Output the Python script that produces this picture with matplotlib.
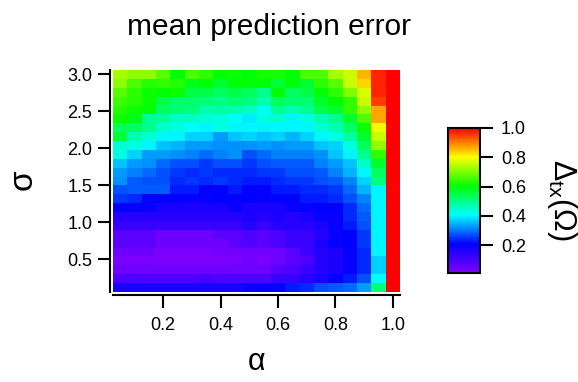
import numpy as np
import matplotlib
matplotlib.use("Agg")
import matplotlib.pyplot as plt
from matplotlib.colors import LinearSegmentedColormap

plt.rcParams['font.family'] = ['Liberation Sans', 'DejaVu Sans']
plt.rcParams['mathtext.fontset'] = 'custom'
plt.rcParams['mathtext.rm'] = 'Liberation Sans'
plt.rcParams['mathtext.it'] = 'Liberation Sans:italic'

# grid of the scan
alpha = [0.05, 0.10, 0.15, 0.20, 0.25, 0.30, 0.35, 0.40, 0.45, 0.50,
         0.55, 0.60, 0.65, 0.70, 0.75, 0.80, 0.85, 0.90, 0.95, 1.00]
sigma = [0.12, 0.24, 0.36, 0.48, 0.60, 0.72, 0.84, 0.96, 1.08, 1.20,
         1.32, 1.44, 1.56, 1.68, 1.80, 1.92, 2.04, 2.16, 2.28, 2.40,
         2.52, 2.64, 2.76, 2.88, 3.00]

# mean prediction error, rows listed from sigma = 3.00 down to 0.12
err_rows = [
    [0.73, 0.71, 0.71, 0.67, 0.60, 0.66, 0.64, 0.60, 0.61, 0.60, 0.62, 0.62, 0.60, 0.66, 0.66, 0.73, 0.76, 0.86, 0.97, 1.00],
    [0.71, 0.66, 0.63, 0.64, 0.63, 0.59, 0.60, 0.57, 0.60, 0.60, 0.60, 0.56, 0.60, 0.57, 0.64, 0.67, 0.76, 0.83, 0.97, 1.00],
    [0.67, 0.64, 0.61, 0.60, 0.61, 0.55, 0.55, 0.53, 0.55, 0.53, 0.49, 0.60, 0.53, 0.55, 0.60, 0.64, 0.70, 0.77, 0.97, 1.00],
    [0.65, 0.63, 0.61, 0.55, 0.52, 0.52, 0.51, 0.50, 0.52, 0.51, 0.47, 0.53, 0.52, 0.52, 0.57, 0.60, 0.64, 0.76, 0.95, 1.00],
    [0.63, 0.61, 0.60, 0.53, 0.52, 0.51, 0.47, 0.48, 0.47, 0.45, 0.41, 0.49, 0.47, 0.49, 0.55, 0.57, 0.64, 0.71, 0.87, 1.00],
    [0.61, 0.59, 0.49, 0.48, 0.45, 0.45, 0.44, 0.43, 0.41, 0.39, 0.43, 0.44, 0.40, 0.43, 0.47, 0.49, 0.56, 0.66, 0.87, 1.00],
    [0.53, 0.53, 0.49, 0.45, 0.43, 0.41, 0.40, 0.43, 0.40, 0.40, 0.40, 0.40, 0.40, 0.40, 0.44, 0.47, 0.53, 0.61, 0.79, 1.00],
    [0.56, 0.47, 0.44, 0.40, 0.40, 0.37, 0.37, 0.33, 0.36, 0.37, 0.36, 0.37, 0.35, 0.37, 0.40, 0.43, 0.48, 0.57, 0.76, 1.00],
    [0.44, 0.43, 0.40, 0.36, 0.35, 0.33, 0.33, 0.32, 0.32, 0.32, 0.33, 0.32, 0.33, 0.33, 0.36, 0.37, 0.43, 0.53, 0.71, 1.00],
    [0.43, 0.37, 0.33, 0.33, 0.32, 0.31, 0.29, 0.31, 0.32, 0.27, 0.29, 0.31, 0.31, 0.31, 0.32, 0.36, 0.40, 0.49, 0.64, 1.00],
    [0.36, 0.33, 0.32, 0.29, 0.27, 0.27, 0.25, 0.27, 0.27, 0.25, 0.27, 0.28, 0.28, 0.28, 0.31, 0.33, 0.36, 0.45, 0.57, 1.00],
    [0.33, 0.31, 0.29, 0.27, 0.25, 0.24, 0.25, 0.24, 0.24, 0.24, 0.25, 0.25, 0.27, 0.27, 0.28, 0.31, 0.35, 0.40, 0.53, 1.00],
    [0.32, 0.28, 0.27, 0.27, 0.24, 0.25, 0.24, 0.25, 0.24, 0.23, 0.23, 0.24, 0.25, 0.25, 0.27, 0.28, 0.31, 0.37, 0.51, 1.00],
    [0.27, 0.28, 0.28, 0.28, 0.23, 0.23, 0.21, 0.21, 0.23, 0.21, 0.21, 0.23, 0.23, 0.24, 0.24, 0.25, 0.29, 0.35, 0.40, 1.00],
    [0.25, 0.24, 0.21, 0.21, 0.21, 0.20, 0.20, 0.21, 0.20, 0.21, 0.20, 0.21, 0.21, 0.23, 0.23, 0.24, 0.27, 0.31, 0.40, 1.00],
    [0.21, 0.20, 0.20, 0.17, 0.17, 0.17, 0.17, 0.17, 0.20, 0.17, 0.17, 0.17, 0.20, 0.20, 0.21, 0.21, 0.24, 0.29, 0.40, 1.00],
    [0.15, 0.15, 0.15, 0.15, 0.15, 0.15, 0.15, 0.15, 0.15, 0.17, 0.15, 0.17, 0.15, 0.17, 0.20, 0.20, 0.24, 0.28, 0.40, 1.00],
    [0.12, 0.12, 0.12, 0.12, 0.12, 0.12, 0.12, 0.12, 0.12, 0.15, 0.12, 0.15, 0.15, 0.15, 0.17, 0.20, 0.23, 0.27, 0.40, 1.00],
    [0.07, 0.07, 0.07, 0.04, 0.04, 0.04, 0.04, 0.07, 0.07, 0.09, 0.07, 0.09, 0.12, 0.12, 0.15, 0.20, 0.21, 0.25, 0.40, 1.00],
    [0.07, 0.07, 0.07, 0.04, 0.04, 0.04, 0.04, 0.04, 0.07, 0.08, 0.07, 0.09, 0.12, 0.12, 0.17, 0.20, 0.21, 0.25, 0.40, 1.00],
    [0.04, 0.04, 0.04, 0.02, 0.02, 0.02, 0.02, 0.03, 0.03, 0.04, 0.03, 0.04, 0.07, 0.12, 0.15, 0.17, 0.20, 0.24, 0.40, 1.00],
    [0.02, 0.02, 0.02, 0.01, 0.01, 0.01, 0.01, 0.01, 0.02, 0.03, 0.02, 0.04, 0.07, 0.09, 0.15, 0.17, 0.20, 0.24, 0.37, 1.00],
    [0.04, 0.04, 0.04, 0.04, 0.04, 0.04, 0.04, 0.04, 0.04, 0.04, 0.04, 0.07, 0.09, 0.12, 0.15, 0.17, 0.20, 0.24, 0.37, 1.00],
    [0.09, 0.09, 0.09, 0.09, 0.09, 0.09, 0.10, 0.09, 0.09, 0.09, 0.09, 0.12, 0.12, 0.15, 0.17, 0.20, 0.23, 0.27, 0.41, 1.00],
    [0.17, 0.17, 0.17, 0.17, 0.17, 0.17, 0.17, 0.17, 0.17, 0.20, 0.20, 0.20, 0.23, 0.24, 0.27, 0.28, 0.29, 0.33, 0.51, 1.00],
]

xticks = [0.2, 0.4, 0.6, 0.8, 1.0]
yticks = [0.5, 1.0, 1.5, 2.0, 2.5, 3.0]
cticks = [0.2, 0.4, 0.6, 0.8, 1.0]

err = np.array(err_rows)[::-1]


def edges(centers):
    c = np.asarray(centers)
    mid = (c[1:] + c[:-1]) / 2
    return np.concatenate([[c[0] - (mid[0] - c[0])], mid, [c[-1] + (c[-1] - mid[-1])]])


# violet -> blue -> cyan -> green -> yellow -> red
rainbow = LinearSegmentedColormap.from_list("rainbow_igor", [
    (0.0, "#7f00ff"), (0.2, "#0000ff"), (0.4, "#00ffff"),
    (0.6, "#00ff00"), (0.8, "#ffff00"), (1.0, "#ff0000")])

W, H = 578, 382
fig = plt.figure(figsize=(W / 100, H / 100), dpi=100)
ax = fig.add_axes([113 / W, 90 / H, 287 / W, 222 / H])

mesh = ax.pcolormesh(edges(alpha), edges(sigma), err, cmap=rainbow,
                     vmin=0.01, vmax=1.0, shading="flat")

for side in ["top", "right"]:
    ax.spines[side].set_visible(False)
for side in ["left", "bottom"]:
    ax.spines[side].set_position(("outward", 2))
    ax.spines[side].set_linewidth(1.5)

ax.set_xticks(xticks)
ax.set_xticklabels([f"{v:.1f}" for v in xticks])
ax.set_yticks(yticks)
ax.set_yticklabels([f"{v:.1f}" for v in yticks])
ax.tick_params(axis="both", direction="out", length=9, width=1.5, labelsize=13)
ax.tick_params(axis="x", pad=7)
ax.tick_params(axis="y", pad=4)

fig.text(269 / W, 1 - 35 / H, "mean prediction error", fontsize=21.5,
         ha="center", va="baseline")
fig.text(257 / W, 1 - 362 / H, "α", fontsize=22, ha="center", va="center")
fig.text(23 / W, 1 - 180 / H, "σ", fontsize=24, ha="center", va="center",
         rotation=90)

cax = fig.add_axes([448 / W, 109 / H, 32 / W, 145 / H])
cb = fig.colorbar(mesh, cax=cax, ticks=cticks)
cb.outline.set_linewidth(1.5)
cb.ax.set_yticklabels([f"{v:.1f}" for v in cticks])
cax.tick_params(length=9, width=1.5, labelsize=13, pad=6)
fig.text(562 / W, 1 - 200 / H, r"$\Delta_{\mathrm{tx}}(\Omega)$", fontsize=22,
         ha="center", va="center", rotation=-90)

fig.savefig("out.png", dpi=100)
